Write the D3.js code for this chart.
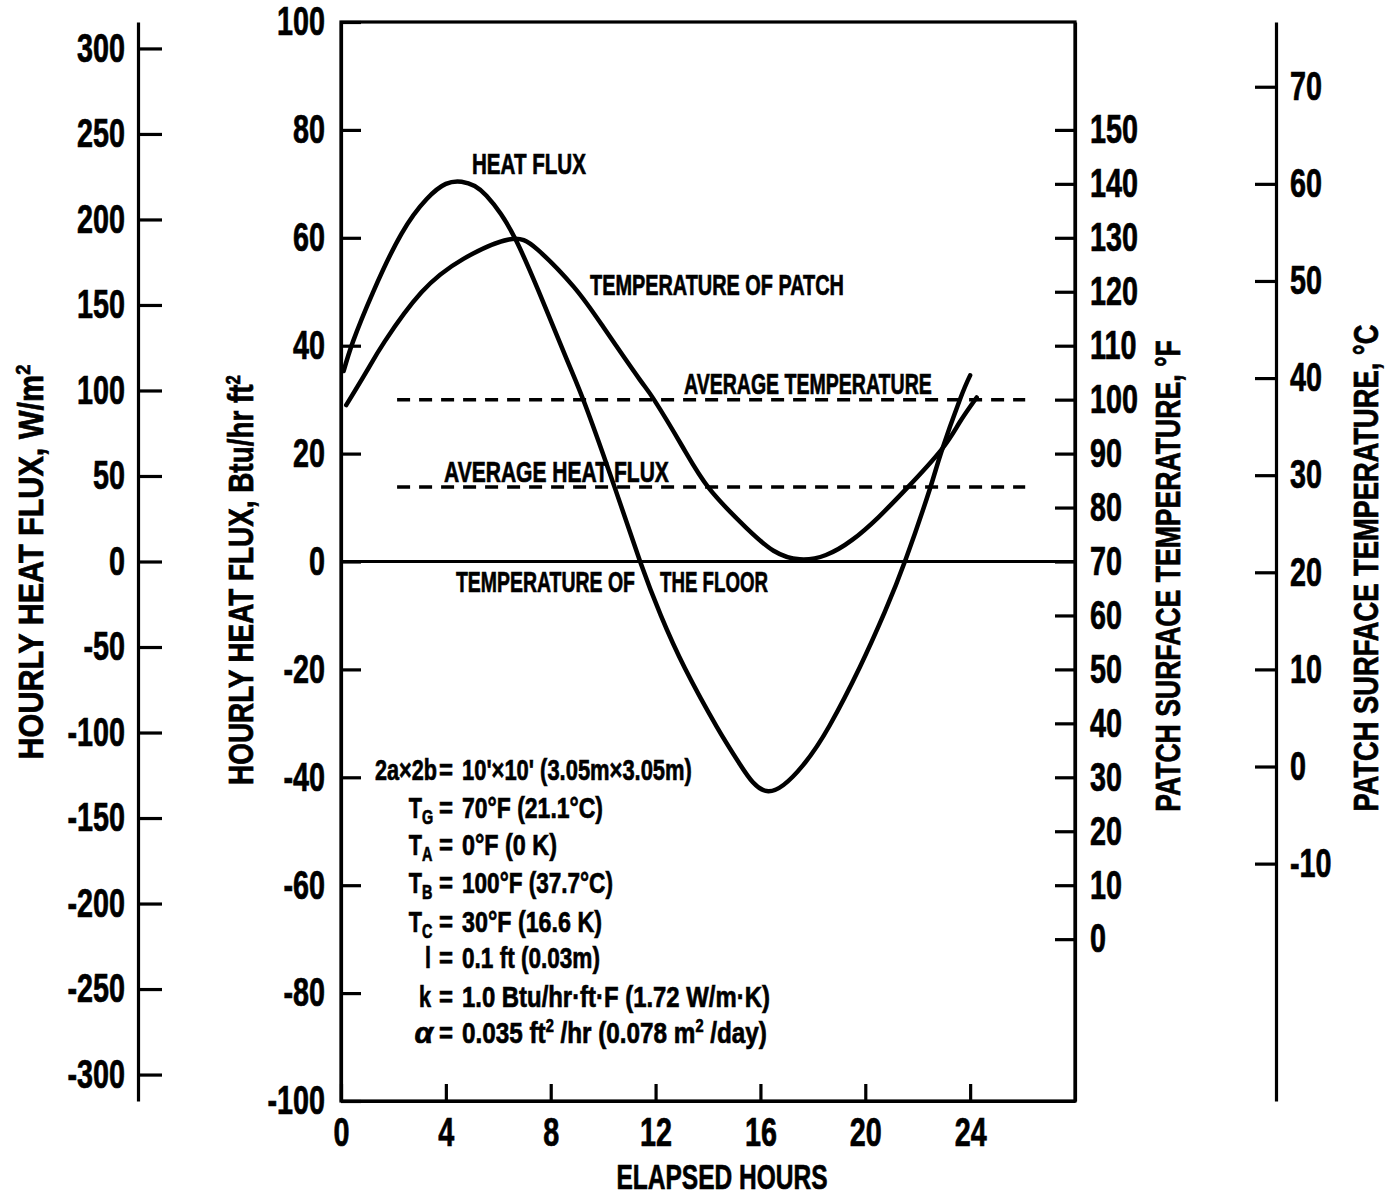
<!DOCTYPE html>
<html><head><meta charset="utf-8">
<script src="https://cdn.jsdelivr.net/npm/d3@7"></script>
<style>
body{margin:0;background:#fff}
svg{display:block;background:#fff}
text{font-family:"Liberation Sans",Arial,sans-serif;font-weight:bold;fill:#000;stroke:#000;stroke-width:0.7px}
</style></head><body>
<svg id="c" width="1386" height="1198"></svg>
<script>
// ---------------- data ----------------
const hfHours  = [0.1, 0.46, 1.22, 2.3, 3.27, 4.0, 4.6, 5.1, 5.55, 6.1, 6.7, 7.53, 8.6, 9.35, 10.45, 11.41, 12.2, 13.12, 14.33, 15.22, 16.3, 17.62, 18.64, 19.79, 20.74, 21.55, 22.46, 22.9, 23.6, 24.0];
const heatFlux = [35.3, 40.8, 49.9, 60.7, 67.2, 70.0, 70.4, 69.6, 67.8, 64.4, 59.3, 50.2, 37.6, 28.6, 13.6, 0, -10.0, -19.8, -30.6, -37.6, -42.6, -37.8, -30.4, -19.6, -9.4, 0.5, 13.4, 20.3, 29.9, 34.5];
const tempHours = [0.2, 0.97, 1.67, 3.07, 4.67, 6.4, 7.5, 8.88, 10.0, 11.37, 11.94, 13.0, 14.05, 15.45, 16.5, 17.5, 18.5, 19.5, 20.5, 21.57, 22.9, 23.6, 24.25];
const patchTempF = [99.0, 105.2, 110.8, 119.9, 126.1, 129.7, 127.8, 120.9, 113.5, 103.9, 100.0, 91.5, 83.5, 76.3, 72.0, 70.4, 71.2, 74.0, 78.2, 83.5, 90.7, 95.8, 100.4];
const avgTemperatureF = 100;
const avgHeatFlux = 13.8;
const avgSpanHours = [2.14, 26.1];
const floorTempF = 70;

const xTicks   = [0, 4, 8, 12, 16, 20, 24];
const btuTicks = [-100, -80, -60, -40, -20, 0, 20, 40, 60, 80, 100];
const wTicks   = [-300, -250, -200, -150, -100, -50, 0, 50, 100, 150, 200, 250, 300];
const fTicks   = [0, 10, 20, 30, 40, 50, 60, 70, 80, 90, 100, 110, 120, 130, 140, 150];
const cTicks   = [-10, 0, 10, 20, 30, 40, 50, 60, 70];

const paramSymbols = ["2a×2b", "T|G", "T|A", "T|B", "T|C", "l", "k", "α"];
const paramValues  = ["10'×10' (3.05m×3.05m)", "70°F (21.1°C)", "0°F (0 K)", "100°F (37.7°C)", "30°F (16.6 K)", "0.1 ft (0.03m)", "1.0 Btu/hr·ft·F (1.72 W/m·K)", "0.035 ft^2 /hr (0.078 m^2 /day)"];

// ---------------- layout ----------------
const W2BTU = 3.15459;
const svg = d3.select("#c");
const x    = d3.scaleLinear([0, 28], [341, 1075]);
const yBtu = d3.scaleLinear([-100, 100], [1101, 22]);
const yW   = d3.scaleLinear([-100 * W2BTU, 100 * W2BTU], [1101, 22]);
const yF   = d3.scaleLinear([-30, 170], [1101, 22]);
const yC   = d3.scaleLinear([(-30 - 32) / 1.8, (170 - 32) / 1.8], [1101, 22]);
const fmt = d => String(d);

const probe = svg.append("text").attr("font-size", 40).text("300");
const tickSX = 48 / probe.node().getComputedTextLength();
probe.remove();

function styleAxis(g) {
  g.selectAll("path.domain").attr("stroke-width", 3.2);
  g.selectAll(".tick line").attr("stroke-width", 3.2);
  g.selectAll(".tick text").attr("font-size", 40).attr("font-family", null).attr("fill", "#000")
    .each(function () {
      const t = d3.select(this);
      const x0 = +t.attr("x") || 0;
      t.attr("x", x0 / tickSX).attr("transform", `scale(${tickSX},1)`);
    });
}

// frame
svg.append("rect").attr("x", x(0)).attr("y", yBtu(100)).attr("width", x(28) - x(0)).attr("height", yBtu(-100) - yBtu(100))
  .attr("fill", "none").attr("stroke", "#000").attr("stroke-width", 3.2);

// axes
svg.append("g").attr("transform", `translate(${x(0)},0)`)
  .call(d3.axisLeft(yBtu).tickValues(btuTicks).tickSize(-20).tickSizeOuter(0).tickPadding(16).tickFormat(fmt))
  .call(styleAxis);
svg.append("g").attr("transform", `translate(138,0)`)
  .call(d3.axisLeft(yW).tickValues(wTicks).tickSize(-24).tickSizeOuter(0).tickPadding(13).tickFormat(fmt))
  .call(styleAxis);
svg.append("g").attr("transform", `translate(${x(28)},0)`)
  .call(d3.axisRight(yF).tickValues(fTicks).tickSize(-20).tickSizeOuter(0).tickPadding(15).tickFormat(fmt))
  .call(styleAxis);
svg.append("g").attr("transform", `translate(1276,0)`)
  .call(d3.axisRight(yC).tickValues(cTicks).tickSize(-21).tickSizeOuter(0).tickPadding(14).tickFormat(fmt))
  .call(styleAxis);
svg.append("g").attr("transform", `translate(0,${yBtu(-100)})`)
  .call(d3.axisBottom(x).tickValues(xTicks).tickSize(-17).tickSizeOuter(0).tickPadding(17).tickFormat(fmt))
  .call(styleAxis);

// floor line
svg.append("line").attr("x1", x(0)).attr("x2", x(28)).attr("y1", yF(floorTempF)).attr("y2", yF(floorTempF))
  .attr("stroke", "#000").attr("stroke-width", 3);

// average lines
const dash = (yv) => svg.append("line").attr("x1", x(avgSpanHours[0])).attr("x2", x(avgSpanHours[1]))
  .attr("y1", yv).attr("y2", yv).attr("stroke", "#000").attr("stroke-width", 3.5).attr("stroke-dasharray", "13,9");
dash(yF(avgTemperatureF));
dash(yBtu(avgHeatFlux));

// curves
const hfLine = d3.line().x(d => x(d[0])).y(d => yBtu(d[1])).curve(d3.curveNatural);
const tLine  = d3.line().x(d => x(d[0])).y(d => yF(d[1])).curve(d3.curveNatural);
svg.append("path").attr("d", hfLine(d3.zip(hfHours, heatFlux))).attr("fill", "none").attr("stroke", "#000")
  .attr("stroke-width", 4.5).attr("stroke-linecap", "round").attr("stroke-linejoin", "round");
svg.append("path").attr("d", tLine(d3.zip(tempHours, patchTempF))).attr("fill", "none").attr("stroke", "#000")
  .attr("stroke-width", 4.5).attr("stroke-linecap", "round").attr("stroke-linejoin", "round");

// text helpers
function addParts(t, str, size) {
  const parts = str.split(/(\^.)/);
  let shifted = 0;
  parts.forEach(p => {
    if (!p) return;
    if (p[0] === "^") {
      t.append("tspan").attr("font-size", size * 0.6).attr("dy", -size * 0.36).text(p[1]);
      shifted = size * 0.36;
    } else {
      const ts = t.append("tspan").attr("font-size", size).text(p);
      if (shifted) { ts.attr("dy", shifted); shifted = 0; }
    }
  });
}
function label(str, px, py, o) {
  const size = o.size || 30;
  const t = svg.append("text").attr("font-size", size).attr("text-anchor", o.anchor || "start");
  if (o.italic) t.attr("font-style", "italic").attr("font-family", "DejaVu Serif, serif");
  addParts(t, str, size);
  let sx = o.sx || 0.72;
  if (o.width) sx = o.width / t.node().getComputedTextLength();
  t.attr("transform", `translate(${px},${py}) rotate(${o.rot || 0}) scale(${sx},1)`);
  return t;
}

// axis titles
label("HOURLY HEAT FLUX, W/m^2", 43, 562, {size: 35, anchor: "middle", rot: -90, width: 395});
label("HOURLY HEAT FLUX, Btu/hr ft^2", 253, 580, {size: 35, anchor: "middle", rot: -90, width: 410});
label("PATCH SURFACE TEMPERATURE, °F", 1180, 576, {size: 36, anchor: "middle", rot: -90, width: 472});
label("PATCH SURFACE TEMPERATURE, °C", 1378, 568, {size: 36, anchor: "middle", rot: -90, width: 487});
label("ELAPSED HOURS", 722, 1189, {size: 36, anchor: "middle", width: 211});

// curve annotations
label("HEAT FLUX", 472, 174, {size: 30, width: 114});
label("TEMPERATURE OF PATCH", 590, 295, {size: 30, width: 254});
label("AVERAGE TEMPERATURE", 684, 394, {size: 30, width: 248});
label("AVERAGE HEAT FLUX", 444, 482, {size: 30, width: 225});
label("TEMPERATURE OF", 456, 592, {size: 30, width: 179});
label("THE FLOOR", 660, 592, {size: 30, width: 108});

// parameter block
const paramBaselines = [780, 818, 855, 893, 932, 968, 1007, 1043];
const paramWidths = [230, 141, 95, 151, 140, 138, 308, 305];
paramSymbols.forEach((s, i) => {
  const yb = paramBaselines[i];
  const [main, sub] = s.split("|");
  if (main === "α") label(main, 433, yb, {size: 30, anchor: "end", italic: true, sx: 1.0});
  else if (main === "2a×2b") label(main, 437, yb, {size: 30, anchor: "end", width: 62});
  else label(main, sub ? 422 : 431, yb, {size: 30, anchor: "end", sx: 0.72});
  if (sub) label(sub, 422, yb + 6, {size: 20, anchor: "start", sx: 0.72});
  label("=", 446, yb, {size: 30, anchor: "middle", sx: 0.8});
  label(paramValues[i], 462, yb, {size: 30, width: paramWidths[i]});
});
</script>
</body></html>
